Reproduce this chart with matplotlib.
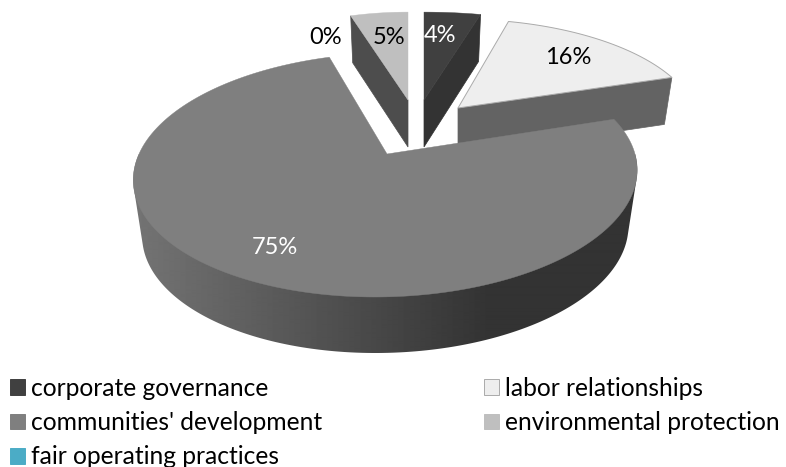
import numpy as np
import matplotlib
matplotlib.use("Agg")
import matplotlib.pyplot as plt
from matplotlib.patches import Polygon, Patch

# data, in clockwise pie order from 12 o'clock
categories = ["corporate governance", "labor relationships", "communities' development",
              "fair operating practices", "environmental protection"]
values = [4, 16, 75, 0, 5]

# styles
top_colors = ["#404040", "#eeeeee", "#7f7f7f", "#4bacc6", "#bfbfbf"]
wall_colors = ["#333333", "#636363", "#333333", "#4bacc6", "#4d4d4d"]
label_colors = ["white", "black", "white", "black", "black"]
label_pos = [(440, 36), (568, 58), (275, 248), (326, 37), (389, 37)]
# apex x, apex y, x scale, y scale, shear, extrusion height per slice
slice_geom = [(424, 100, 1.07, .87, 0, 47), (458, 108, .955, .88, 0, 47),
              (387, 154, 1.0, 1.0, 10, 56), (408, 100, .87, .87, 0, 47),
              (408, 100, .87, .87, 0, 47)]
A, B, K, SHRINK = 248.0, 118.4, 0.172, 0.965


def project(i, deg, bottom=False):
    ox, oy, sx, sy, c, h = slice_geom[i]
    t = np.radians(deg)
    u, v = np.sin(t), np.cos(t)
    w = 1 / (1 + K * v)
    f = SHRINK if bottom else 1.0
    return ox + f * (sx * A * u + c * v) * w, oy - sy * B * v * w + (h if bottom else 0)


def apex(i, bottom=False):
    ox, oy, *_, h = slice_geom[i]
    return ox, oy + (h if bottom else 0)


def hull(points):
    pts = sorted(set(points))

    def half(seq):
        out = []
        for p in seq:
            while len(out) >= 2 and ((out[-1][0] - out[-2][0]) * (p[1] - out[-2][1])
                                     - (out[-1][1] - out[-2][1]) * (p[0] - out[-2][0])) <= 0:
                out.pop()
            out.append(p)
        return out[:-1]
    return half(pts) + half(pts[::-1])


fig = plt.figure(figsize=(7.86, 4.67), dpi=100)
ax = fig.add_axes([0, 0, 1, 1])
ax.set_xlim(0, 786)
ax.set_ylim(467, 0)
ax.axis("off")

edges = np.cumsum([0] + values) * 3.6


def poly(pts, color, ec=None, lw=0.5, z=1):
    p = Polygon(pts, closed=True, fc=color, ec=ec or color, lw=lw, zorder=z)
    ax.add_patch(p)
    return p


for i in [4, 3, 0, 1, 2]:
    if values[i] == 0:
        continue
    a0, a1 = edges[i], edges[i + 1]
    angs = np.linspace(a0, a1, max(int(a1 - a0) * 2, 8))
    top = [project(i, a) for a in angs]
    # radial wall visible from the viewer
    if i in (0, 1):
        poly([apex(i), project(i, a1), project(i, a1, True), apex(i, True)], wall_colors[i])
    if i == 4:
        poly([apex(i), project(i, a0), project(i, a0, True), apex(i, True)], wall_colors[i])
    # outer wall of the big slice: shaded across its width
    if i == 2:
        fa = np.linspace(90, 270, 400)
        wall = hull([tuple(map(float, project(i, a, b))) for a in fa for b in (False, True)])
        clip = Polygon(wall, closed=True, transform=ax.transData, fc="none", ec="none")
        ax.add_patch(clip)
        xs = np.arange(120, 660)
        shade = np.interp(xs, [134, 490], [0x74, 0x33])[None, :]
        im = ax.imshow(shade, cmap="gray", vmin=0, vmax=255, extent=(120, 660, 380, 100),
                       aspect="auto", zorder=1.5, interpolation="bilinear")
        im.set_clip_path(clip)
        ax.set_xlim(0, 786)
        ax.set_ylim(467, 0)
    ec = "#aaaaaa" if i == 1 else None
    poly([apex(i)] + top, top_colors[i], ec=ec, lw=0.7 if i == 1 else 0.3, z=2)

for i, v in enumerate(values):
    ax.text(*label_pos[i], f"{v}%", color=label_colors[i], ha="center", va="center",
            fontsize=17, family="Lato", zorder=5)

order = [0, 2, 3, 1, 4]
handles = [Patch(fc=top_colors[i], ec="#aaaaaa" if i == 1 else top_colors[i], lw=0.7,
                 label=categories[i]) for i in order]
fig.legend(handles=handles, ncol=2, frameon=False, loc="lower left",
           bbox_to_anchor=(10 / 786, -1.5 / 467), borderpad=0, borderaxespad=0,
           prop={"family": "Lato", "size": 17.7}, handlelength=0.6, handleheight=0.6,
           handletextpad=0.25, labelspacing=0.46, columnspacing=6.6)
fig.savefig("out.png", dpi=100)
